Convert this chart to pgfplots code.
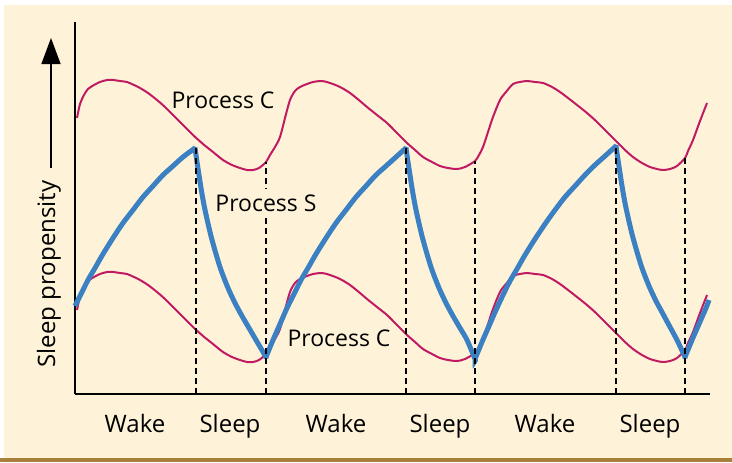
\documentclass[border=0pt]{standalone}
\usepackage{fontspec}
\setmainfont{Open Sans}
\usepackage{pgfplots}
\usepackage{pgfplotstable}
\pgfplotsset{compat=1.18}
\usetikzlibrary{arrows.meta}

\definecolor{cream}{HTML}{FEF3D8}
\definecolor{band}{HTML}{A8803C}
\definecolor{procC}{HTML}{C01A62}
\definecolor{procS}{HTML}{3A80C2}

% curves in pixel units (py counted from the top)
\pgfplotstableread{
x py
77 118
80 104
84 95
88 89
94 85
100 82
107 80
113 80
120 81
127 82
134 85
140 88
148 93
157 100
165 107
173 115
183 125
193 135
203 144
213 152
223 160
232 165
240 168
247 170
253 170
259 168
266 162
270 155
275 147
280 137
285 118
290 100
295 91
300 87
307 84
313 82
322 81
330 83
340 87
350 93
360 101
367 107
377 115
387 123
397 133
407 143
415 150
423 157
432 162
440 166
448 168
457 169
465 167
475 161
479 155
483 147
488 132
493 117
500 100
506 92
513 84
520 82
527 81
535 82
543 83
552 87
560 92
568 98
577 105
587 113
597 122
607 132
617 142
625 150
633 157
642 163
650 167
657 169
663 170
670 169
677 166
685 158
688 151
693 140
700 121
707 103
}\procCdata

% corners (peaks and troughs) are listed twice to keep them sharp
\pgfplotstableread{
x py
75 306
81 294
88 280
95 268
103 254
113 238
123 223
133 210
143 197
153 186
163 175
173 166
183 157
195 148
195 148
197 162
199 175
201 188
204 205
207 219
211 236
216 254
221 270
228 288
235 303
242 316
249 328
256 340
266 357
266 357
273 340
280 324
287 308
294 294
301 280
308 268
316 254
326 238
336 223
346 210
356 197
366 186
376 175
386 166
396 157
406 148
406 148
408 162
410 175
412 188
415 205
418 219
422 236
427 254
432 270
439 288
446 303
453 316
460 328
467 340
475 359
475 359
482 342
489 326
496 310
503 295
510 281
517 269
525 255
535 239
545 224
555 210
565 197
575 186
585 175
595 165
605 156
616 146
616 146
618 160
620 173
622 186
625 203
628 217
632 234
637 252
642 268
649 286
656 301
663 314
670 327
677 340
685 357
685 357
692 340
699 324
706 308
709 300
}\procSdata

\begin{document}
\begin{tikzpicture}
\begin{axis}[
    set layers,
    x=0.5pt, y=0.5pt,
    xmin=75, xmax=710, ymin=68, ymax=440,
    axis lines=left,
    axis line style={-, line width=0.75pt, black},
    clip=false,
    ytick=\empty,
    xtick={135,230,336,440,545,650},
    xticklabels={Wake,Sleep,Wake,Sleep,Wake,Sleep},
    major tick length=0pt,
    xticklabel style={anchor=base, yshift=-19pt},
    tick label style={font=\fontsize{12}{14}\selectfont},
]
\begin{pgfonlayer}{axis background}
\fill[white] (axis cs:0,0) rectangle (axis cs:732,462);
\fill[cream] (axis cs:4,4) rectangle (axis cs:732,457);
\fill[band] (axis cs:0,0) rectangle (axis cs:732,4);
\end{pgfonlayer}

\addplot[procC, line width=1pt, smooth, tension=0.5] table[x=x, y expr=462-\thisrow{py}] {\procCdata};
\addplot[procC, line width=1pt, smooth, tension=0.5] table[x=x, y expr=270-\thisrow{py}] {\procCdata};
\addplot[procS, line width=2.5pt, smooth, tension=0.5, line join=miter] table[x=x, y expr=462-\thisrow{py}] {\procSdata};

\addplot[black, line width=0.7pt, dash pattern=on 3pt off 2pt] coordinates {(196,68) (196,314)};
\addplot[black, line width=0.7pt, dash pattern=on 3pt off 2pt] coordinates {(266,68) (266,300)};
\addplot[black, line width=0.7pt, dash pattern=on 3pt off 2pt] coordinates {(406,68) (406,314)};
\addplot[black, line width=0.7pt, dash pattern=on 3pt off 2pt] coordinates {(475,68) (475,301)};
\addplot[black, line width=0.7pt, dash pattern=on 3pt off 2pt] coordinates {(616,68) (616,316)};
\addplot[black, line width=0.7pt, dash pattern=on 3pt off 2pt] coordinates {(685,68) (685,304)};

\node[font=\fontsize{11.5}{14}\selectfont] at (axis cs:223,362) {Process C};
\node[font=\fontsize{11.5}{14}\selectfont, fill=cream, inner sep=3pt] at (axis cs:266,259) {Process S};
\node[font=\fontsize{11.5}{14}\selectfont] at (axis cs:339,124) {Process C};

\node[font=\fontsize{12}{14}\selectfont, rotate=90] at (axis cs:49,188) {Sleep propensity};
\draw[line width=0.75pt, -{Triangle[length=13pt, width=9.5pt]}] (axis cs:51,294) -- (axis cs:51,424);
\end{axis}
\end{tikzpicture}
\end{document}
